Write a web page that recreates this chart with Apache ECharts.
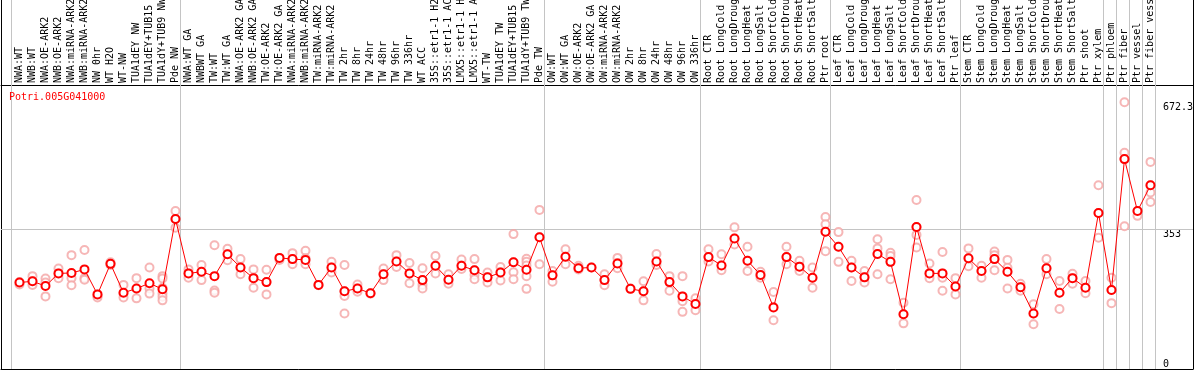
<!DOCTYPE html>
<html>
<head>
<meta charset="utf-8">
<script src="https://cdn.jsdelivr.net/npm/echarts/dist/echarts.min.js"></script>
<style>
  html, body { margin: 0; padding: 0; background: #fff; }
  #chart { width: 1194px; height: 370px; }
</style>
</head>
<body>
<div id="chart"></div>
<script>
// sample names, in plot order
const categories = [
  'NWA:WT', 'NWB:WT', 'NWA:OE-ARK2', 'NWB:OE-ARK2', 'NWA:miRNA-ARK2', 'NWB:miRNA-ARK2',
  'NW 0hr', 'WT H2O', 'WT-NW', 'TUA1dEY NW', 'TUA1dEY+TUB15 NW', 'TUA1dY+TUB9 NW', 'Pde NW',
  'NWA:WT GA', 'NWBWT GA', 'TW:WT', 'TW:WT GA', 'NWA:OE-ARK2 GA', 'NWB:OE-ARK2 GA',
  'TW:OE-ARK2', 'TW:OE-ARK2 GA', 'NWA:miRNA-ARK2', 'NWB:miRNA-ARK2', 'TW:miRNA-ARK2',
  'TW:miRNA-ARK2', 'TW 2hr', 'TW 8hr', 'TW 24hr', 'TW 48hr', 'TW 96hr', 'TW 336hr',
  'WT ACC', '35S::etr1-1 H2O', '35S::etr1-1 ACC', 'LMX5::etr1-1 H2O', 'LMX5::etr1-1 ACC',
  'WT-TW', 'TUA1dEY TW', 'TUA1dEY+TUB15 TW', 'TUA1dY+TUB9 TW', 'Pde TW',
  'OW:WT', 'OW:WT GA', 'OW:OE-ARK2', 'OW:OE-ARK2 GA', 'OW:miRNA-ARK2', 'OW:miRNA-ARK2',
  'OW 2hr', 'OW 8hr', 'OW 24hr', 'OW 48hr', 'OW 96hr', 'OW 336hr',
  'Root CTR', 'Root LongCold', 'Root LongDrought', 'Root LongHeat', 'Root LongSalt',
  'Root ShortCold', 'Root ShortDrought', 'Root ShortHeat', 'Root ShortSalt', 'Ptr root',
  'Leaf CTR', 'Leaf LongCold', 'Leaf LongDrought', 'Leaf LongHeat', 'Leaf LongSalt',
  'Leaf ShortCold', 'Leaf ShortDrought', 'Leaf ShortHeat', 'Leaf ShortSalt', 'Ptr leaf',
  'Stem CTR', 'Stem LongCold', 'Stem LongDrought', 'Stem LongHeat', 'Stem LongSalt',
  'Stem ShortCold', 'Stem ShortDrought', 'Stem ShortHeat', 'Stem ShortSalt', 'Ptr shoot',
  'Ptr xylem', 'Ptr phloem', 'Ptr fiber', 'Ptr vessel', 'Ptr fiber vessel'
]

// number of samples in each block (grey separators between blocks)
const groupSizes = [13, 28, 12, 10, 10, 11, 1, 1, 1, 1]

// mean expression
const meanValues = [
  218, 221, 209, 241, 242, 251, 188, 265, 192, 203, 216, 201, 378,
  241, 245, 234, 289, 256, 229, 219, 280, 277, 275, 212, 256, 196, 203, 191, 239, 271,
  241, 224, 260, 225, 260, 249, 231, 243, 269, 250, 332,
  236, 283, 254, 256, 224, 266, 202, 196, 271, 219, 183, 164,
  282, 261, 329, 273, 237, 155, 282, 258, 230, 346,
  308, 256, 231, 290, 270, 138, 358, 241, 241, 208,
  279, 247, 277, 245, 206, 140, 254, 192, 229, 205, 393,
  199, 529, 398, 463
]

// replicate measurements
const replicateValues = [
  [219, 213], [234, 221, 212], [228, 218, 183], [253, 241, 229], [287, 229, 211],
  [300, 229, 225], [188, 184, 180], [269, 265, 262], [212, 190, 180], [229, 203, 178],
  [256, 203, 190], [234, 228, 205, 190, 182, 173], [398, 378, 356],
  [251, 241, 230], [262, 245, 224], [312, 198, 192], [303, 289, 274], [277, 256, 239],
  [251, 229, 205], [250, 219, 188], [280, 275], [292, 277, 264], [298, 279, 264],
  [212, 211], [270, 256, 243], [262, 196, 184, 140], [213, 203, 195], [191, 190],
  [253, 239, 224], [287, 271, 257], [267, 241, 216], [254, 224, 212, 203], [285, 261, 241],
  [239, 225, 215], [276, 261, 252], [277, 249, 237, 226], [243, 231, 218], [257, 244, 223],
  [340, 269, 244, 226], [278, 270, 261, 250, 234, 202], [401, 332, 264],
  [247, 236, 220], [302, 283, 264], [260, 254, 251], [256], [239, 224, 211], [280, 267, 254],
  [203], [221, 196, 173], [290, 271, 262], [234, 219, 197], [234, 183, 171, 144], [178, 164, 148],
  [302, 282, 271], [289, 261, 249], [357, 329, 314], [308, 273, 247], [245, 237, 230],
  [194, 156, 123], [308, 282, 264], [273, 258, 247], [256, 230, 205], [383, 365, 346, 297],
  [345, 308, 270], [273, 256, 222], [247, 231, 218], [327, 304, 290, 239], [293, 285, 270, 226],
  [167, 138, 115], [426, 358, 338, 306], [266, 241, 229], [295, 241, 230, 197], [229, 208, 188],
  [304, 279, 259], [260, 247, 230], [296, 287, 277, 249], [275, 255, 245, 203], [215, 206, 197],
  [163, 140, 113], [277, 254, 239], [222, 192, 151], [240, 229, 215], [222, 205, 191],
  [463, 393, 331],
  [230, 199, 166], [672.3, 545, 529, 360], [398, 386], [522, 463, 445, 421]
]

const yLabelValues = [672.3, 353]
const yZeroLabel = [0]
const refLine = 353
const geneName = 'Potri.005G041000'

const FONT = 'DejaVu Sans Mono'
const Y_MAX = 930

var myChart = echarts.init(document.getElementById('chart'))

// 组间分隔线
var separators = [-0.6]
var acc = 0
groupSizes.forEach(function (n) {
  acc += n
  separators.push(acc - 0.6)
})

var meanData = meanValues.map(function (v, i) { return [i, v] })
var repData = []
replicateValues.forEach(function (list, i) {
  list.forEach(function (v) { repData.push([i, v]) })
})

// 外框用的坐标轴
function borderAxis(extra) {
  return Object.assign({
    type: 'value',
    min: 0,
    max: Y_MAX,
    axisLine: { show: true, onZero: false, lineStyle: { color: '#000', width: 1 } },
    axisTick: { show: false },
    axisLabel: { show: false },
    splitLine: { show: false },
  }, extra)
}

function labelAxis(values, align) {
  return {
    type: 'value',
    position: 'right',
    offset: -30,
    min: 0,
    max: Y_MAX,
    axisLine: { show: false, onZero: false },
    axisTick: { show: false },
    splitLine: { show: false },
    axisLabel: {
      customValues: values,
      formatter: function (v) { return String(v) },
      verticalAlign: align,
      margin: 0,
      color: '#000',
      fontSize: 10,
      fontFamily: FONT,
    },
  }
}

var option = {
  animation: false,
  backgroundColor: '#fff',
  title: {
    text: geneName,
    left: 9,
    top: 92,
    padding: 0,
    textStyle: { color: '#f00', fontSize: 10, fontFamily: FONT, fontWeight: 'normal' },
  },
  grid: {
    left: 1,
    right: 1,
    top: 0,
    bottom: 1,
    containLabel: false,
    outerBoundsMode: 'none',
  },
  xAxis: [
    {
      type: 'value',
      position: 'top',
      offset: -85,
      min: -1.423,
      max: 90.27,
      axisLine: { show: true, onZero: false, lineStyle: { color: '#000', width: 1 } },
      axisTick: { show: false },
      splitLine: { show: false },
      axisLabel: {
        show: true,
        rotate: -90, // 顶部坐标轴会把角度取反
        margin: 2,
        customValues: categories.map(function (c, i) { return i }),
        formatter: function (v) { return categories[Math.round(v)] },
        color: '#000',
        fontSize: 10,
        fontFamily: FONT,
      },
    },
    borderAxis({ position: 'bottom', min: 0, max: 1 }),
  ],
  yAxis: [
    borderAxis({ position: 'left' }),
    borderAxis({ position: 'right' }),
    labelAxis(yLabelValues, 'top'),
    labelAxis(yZeroLabel, 'bottom'),
  ],
  series: [
    // 重复样本
    {
      type: 'scatter',
      xAxisIndex: 0,
      yAxisIndex: 0,
      symbol: 'emptyCircle',
      symbolSize: 8,
      itemStyle: { color: '#f4a4a4', borderColor: '#f4a4a4', borderWidth: 1 },
      data: repData,
      z: 2,
      markLine: {
        silent: true,
        symbol: 'none',
        label: { show: false },
        lineStyle: { color: '#c4c4c4', type: 'solid', width: 1 },
        data: separators.map(function (s) { return { xAxis: s } }).concat([{ yAxis: refLine }]),
        z: 1,
      },
    },
    // 平均值
    {
      type: 'line',
      xAxisIndex: 0,
      yAxisIndex: 0,
      symbol: 'emptyCircle',
      symbolSize: 8,
      showAllSymbol: true,
      lineStyle: { color: '#f00', width: 1 },
      itemStyle: { color: '#f00', borderColor: '#f00', borderWidth: 1.2 },
      data: meanData,
      z: 3,
    },
  ],
}

myChart.setOption(option)
</script>
</body>
</html>
